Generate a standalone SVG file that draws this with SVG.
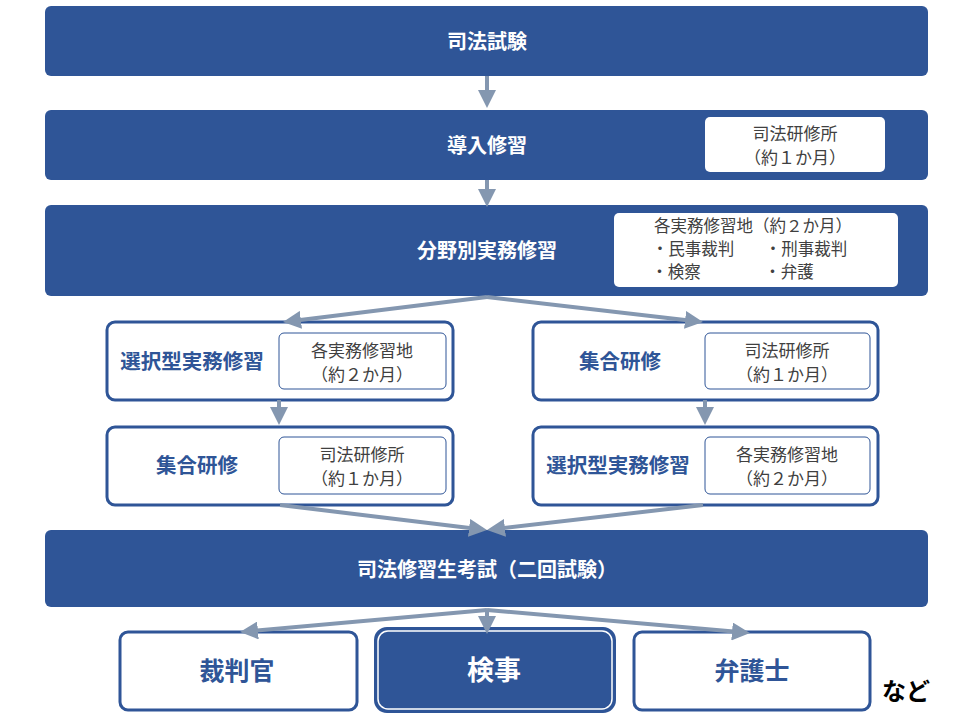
<svg xmlns="http://www.w3.org/2000/svg" width="960" height="720" viewBox="0 0 960 720">
<style>
text{font-family:"Noto Sans CJK JP","Noto Sans",sans-serif;text-anchor:middle;dominant-baseline:central}
.band{fill:#2F5597}
.bt{fill:#fff;font-size:20px;font-weight:bold}
.box{fill:#fff;stroke:#2F5597;stroke-width:3}
.in{fill:#fff;stroke:#2F5597;stroke-width:1}
.inw{fill:#fff}
.bx{fill:#2F5597;font-size:20.5px;font-weight:bold}
.st{fill:#404040;font-size:17px}
.st2{fill:#404040;font-size:16.5px}
.big{fill:#2F5597;font-size:25px;font-weight:bold}
.conn{stroke:#8497B0;stroke-width:4;fill:none;marker-end:url(#ah)}
</style>
<defs>
<marker id="ah" markerUnits="userSpaceOnUse" markerWidth="18" markerHeight="18" refX="13" refY="9" orient="auto">
<path d="M0,0 L18,9 L0,18 z" fill="#8497B0"/>
</marker>
</defs>
<rect width="960" height="720" fill="#fff"/>

<g id="n-shiho-shiken">
<rect class="band" x="45" y="6" width="883" height="70" rx="6"/>
<text class="bt" x="487" y="40">司法試験</text>
</g>

<g id="n-donyu">
<rect class="band" x="45" y="110" width="883" height="70" rx="6"/>
<text class="bt" x="487" y="144">導入修習</text>
<rect class="inw" x="705" y="117" width="180" height="55" rx="5"/>
<text class="st" x="795" y="132">司法研修所</text>
<text class="st" x="795" y="156">（約１か月）</text>
</g>

<g id="n-bunya">
<rect class="band" x="45" y="205" width="883" height="91" rx="6"/>
<text class="bt" x="487" y="249">分野別実務修習</text>
<rect class="inw" x="614" y="213" width="284" height="74" rx="5"/>
<text class="st2" x="753" y="225">各実務修習地（約２か月）</text>
<text class="st2" x="693" y="248">・民事裁判</text>
<text class="st2" x="806" y="248">・刑事裁判</text>
<text class="st2" x="676" y="271">・検察</text>
<text class="st2" x="789" y="271">・弁護</text>
</g>

<g id="n-left-sentaku">
<rect class="box" x="107" y="322" width="346" height="78" rx="8"/>
<text class="bx" x="192" y="360">選択型実務修習</text>
<rect class="in" x="279" y="333" width="167" height="56" rx="5"/>
<text class="st" x="362" y="349">各実務修習地</text>
<text class="st" x="362" y="373">（約２か月）</text>
</g>

<g id="n-right-shugo">
<rect class="box" x="533" y="322" width="345" height="78" rx="8"/>
<text class="bx" x="620" y="360">集合研修</text>
<rect class="in" x="705" y="333" width="165" height="56" rx="5"/>
<text class="st" x="787" y="349">司法研修所</text>
<text class="st" x="787" y="373">（約１か月）</text>
</g>

<g id="n-left-shugo">
<rect class="box" x="107" y="427" width="346" height="78" rx="8"/>
<text class="bx" x="197" y="464">集合研修</text>
<rect class="in" x="279" y="437" width="167" height="57" rx="5"/>
<text class="st" x="362" y="453">司法研修所</text>
<text class="st" x="362" y="477">（約１か月）</text>
</g>

<g id="n-right-sentaku">
<rect class="box" x="533" y="427" width="345" height="78" rx="8"/>
<text class="bx" x="618" y="464">選択型実務修習</text>
<rect class="in" x="705" y="437" width="165" height="57" rx="5"/>
<text class="st" x="787" y="453">各実務修習地</text>
<text class="st" x="787" y="477">（約２か月）</text>
</g>

<g id="n-koshi">
<rect class="band" x="45" y="530" width="883" height="77" rx="6"/>
<text class="bt" x="487" y="568">司法修習生考試（二回試験）</text>
</g>

<g id="n-saibankan">
<rect class="box" x="120" y="632" width="237" height="78" rx="8"/>
<text class="big" x="237" y="669">裁判官</text>
</g>

<g id="n-kenji">
<rect x="375" y="628" width="240" height="84" rx="12" fill="#2F5597" stroke="#2F5597" stroke-width="2"/>
<rect x="378" y="631" width="234" height="78" rx="10" fill="none" stroke="#fff" stroke-width="1.5"/>
<text x="494" y="668" fill="#fff" font-size="27" font-weight="bold">検事</text>
</g>

<g id="n-bengoshi">
<rect class="box" x="634" y="632" width="236" height="78" rx="8"/>
<text class="big" x="752" y="669">弁護士</text>
</g>

<text id="nado" x="906" y="689" fill="#000" font-size="24" font-weight="bold">など</text>

<g id="connectors">
<path class="conn" d="M487,76 L487,103"/>
<path class="conn" d="M487,180 L487,202"/>
<path class="conn" d="M487,297 L288,321.4"/>
<path class="conn" d="M487,297 L698,321.4"/>
<path class="conn" d="M279,400 L279,420"/>
<path class="conn" d="M705,400 L705,420"/>
<path class="conn" d="M280,505 L482,529.4"/>
<path class="conn" d="M703,505 L492,529.4"/>
<path class="conn" d="M487,610 L245,631.6"/>
<path class="conn" d="M487,610 L487,629"/>
<path class="conn" d="M487,610 L745,632.6"/>
</g>
</svg>
